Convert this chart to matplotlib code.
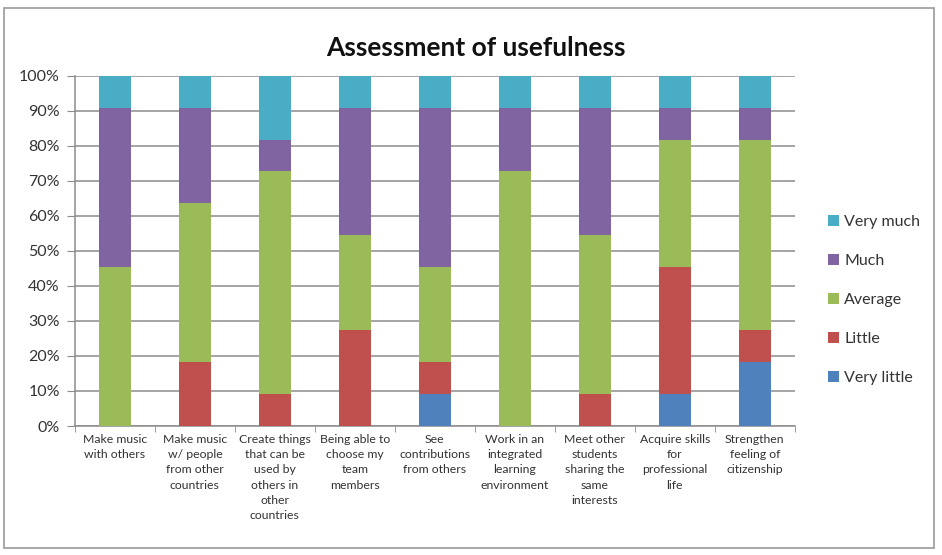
import matplotlib
matplotlib.use("Agg")
import matplotlib.pyplot as plt
from matplotlib.patches import Rectangle
import numpy as np

categories = [
    "Make music\nwith others",
    "Make music\nw/ people\nfrom other\ncountries",
    "Create things\nthat can be\nused by\nothers in\nother\ncountries",
    "Being able to\nchoose my\nteam\nmembers",
    "See\ncontributions\nfrom others",
    "Work in an\nintegrated\nlearning\nenvironment",
    "Meet other\nstudents\nsharing the\nsame\ninterests",
    "Acquire skills\nfor\nprofessional\nlife",
    "Strengthen\nfeeling of\ncitizenship",
]

# Share of answers (%) per level
very_little = [0.0, 0.0, 0.0, 0.0, 9.1, 0.0, 0.0, 9.1, 18.2]
little      = [0.0, 18.2, 9.1, 27.3, 9.1, 0.0, 9.1, 36.4, 9.1]
average     = [45.5, 45.4, 63.6, 27.2, 27.3, 72.7, 45.4, 36.3, 54.5]
much        = [45.4, 27.3, 9.1, 36.4, 45.4, 18.2, 36.4, 9.1, 9.1]
very_much   = [9.1, 9.1, 18.2, 9.1, 9.1, 9.1, 9.1, 9.1, 9.1]

series = [
    ("Very little", very_little, "#4F81BD"),
    ("Little", little, "#C0504D"),
    ("Average", average, "#9BBB59"),
    ("Much", much, "#8064A2"),
    ("Very much", very_much, "#4BACC6"),
]

plt.rcParams["font.family"] = ["Lato", "DejaVu Sans"]

fig = plt.figure(figsize=(9.42, 5.55), dpi=100)
fig.patches.append(Rectangle((0.004, 0.012), 0.988, 0.974, transform=fig.transFigure,
                             fill=False, edgecolor="#9a9a9a", linewidth=1.2))

ax = fig.add_axes([0.0796, 0.2324, 0.764, 0.631])
x = np.arange(len(categories))
bottom = np.zeros(len(categories))
handles = []
for name, vals, color in series:
    v = np.array(vals)
    b = ax.bar(x, v, 0.4, bottom=bottom, color=color, label=name, zorder=3)
    handles.append(b)
    bottom += v

ax.set_xlim(-0.5, len(categories) - 0.5)
ax.set_ylim(0, 100)
ax.set_yticks(np.arange(0, 101, 10))
ax.set_yticklabels([f"{t}%" for t in range(0, 101, 10)], fontsize=11.5, color="#333333")
ax.yaxis.grid(True, color="#8c8c8c", linewidth=1.1, zorder=0)
ax.tick_params(axis="y", length=6, color="#8c8c8c", pad=5)

ax.set_xticks(x)
ax.set_xticklabels(categories, fontsize=8.8, color="#333333", linespacing=1.45, va="top")
ax.tick_params(axis="x", length=0, pad=6)
ax.set_xticks(np.arange(-0.5, len(categories), 1), minor=True)
ax.tick_params(axis="x", which="minor", length=4, color="#8c8c8c")

for side in ["top", "right"]:
    ax.spines[side].set_visible(False)
ax.spines["left"].set_color("#8c8c8c")
ax.spines["bottom"].set_color("#8c8c8c")
ax.spines["left"].set_linewidth(1.1)
ax.spines["bottom"].set_linewidth(1.1)

fig.text(0.505, 0.913, "Assessment of usefulness", fontsize=19, fontweight="bold",
         color="#111111", ha="center", va="center")

leg = fig.legend(handles[::-1], [s[0] for s in series][::-1], loc="center left",
                 bbox_to_anchor=(0.864, 0.459), frameon=False, fontsize=11.5,
                 handlelength=0.7, handleheight=0.7, handletextpad=0.3, labelspacing=1.55)
for t in leg.get_texts():
    t.set_color("#333333")

fig.savefig("out.png", dpi=100)
